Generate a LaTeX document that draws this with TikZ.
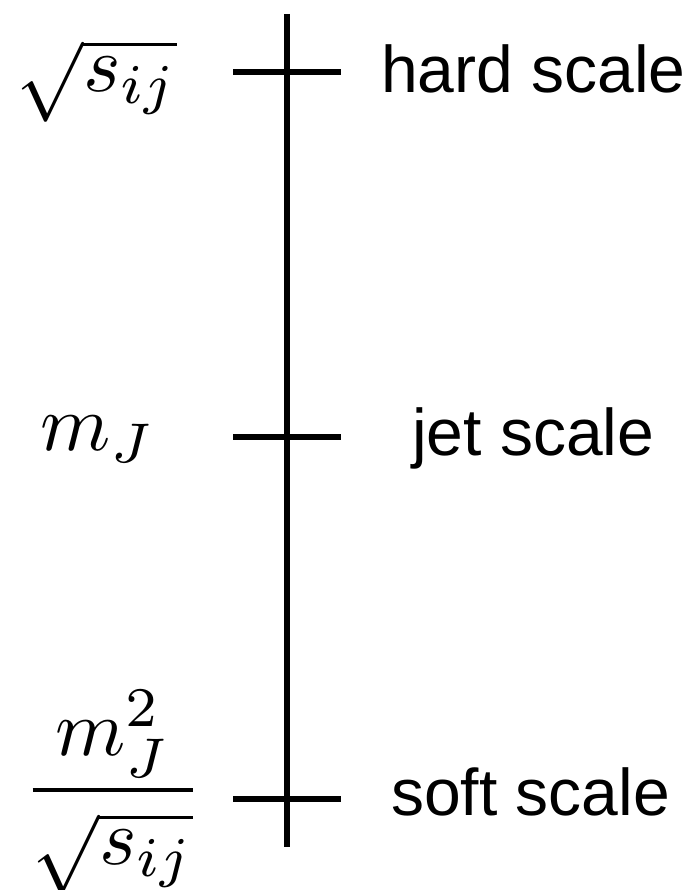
\documentclass[tikz,border=0pt]{standalone}
\usepackage{graphicx}
\usepackage{fontspec}
\setsansfont{Liberation Sans}
\begin{document}
\begin{tikzpicture}[x=1pt,y=-1pt,
  axisline/.style={line width=5.5pt},
  scalelabel/.style={anchor=base west,inner sep=0pt,font=\sffamily\fontsize{66}{79}\selectfont},
  mathlabel/.style={anchor=base,inner sep=0pt}]
\useasboundingbox (0,0) rectangle (695,890);
\coordinate (top) at (287,14);
\coordinate (bot) at (287,847);
\draw[axisline] (top) -- (bot);
\coordinate (hl) at (233,72); \coordinate (hr) at (341,72);
\coordinate (jl) at (233,437); \coordinate (jr) at (341,437);
\coordinate (sl) at (233,799); \coordinate (sr) at (341,799);
\draw[axisline] (hl) -- (hr);
\draw[axisline] (jl) -- (jr);
\draw[axisline] (sl) -- (sr);
\node[scalelabel] (hard) at (381,93) {hard scale};
\node[scalelabel] (jet) at (412,455) {jet scale};
\node[scalelabel] (soft) at (391,815) {soft scale};
\node[mathlabel] (mh) at (97,92) {\scalebox{8}{$\sqrt{s_{ij}}$}};
\node[mathlabel] (mj) at (98,450) {\scalebox{8}{$m_J$}};
\node[mathlabel] (ms) at (113,810) {\scalebox{8}{$\displaystyle\frac{m_J^2}{\sqrt{s_{ij}}}$}};
\end{tikzpicture}
\end{document}
